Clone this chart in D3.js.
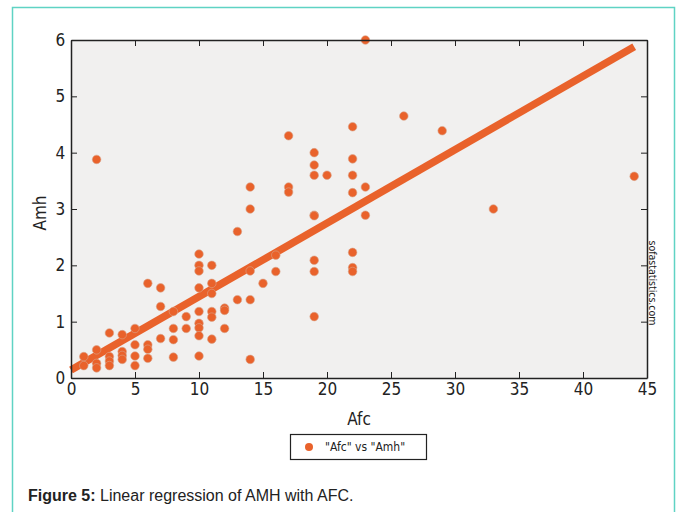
<!DOCTYPE html>
<html>
<head>
<meta charset="utf-8">
<script src="https://cdn.jsdelivr.net/npm/d3@7"></script>
<style>
  body { margin: 0; background: #fff; }
  svg { display: block; }
</style>
</head>
<body>
<div class="canvas"></div>
<script>
// data
const afc = [1, 1, 2, 2, 2, 2, 3, 3, 3, 3, 4, 4, 4, 4, 5, 5, 5, 5,
  6, 6, 6, 6, 7, 7, 7, 8, 8, 8, 8, 9, 9,
  10, 10, 10, 10, 10, 10, 10, 10, 10,
  11, 11, 11, 11, 11, 11, 12, 12, 12, 13, 13,
  14, 14, 14, 14, 14, 15, 16, 16, 17, 17, 17,
  19, 19, 19, 19, 19, 19, 19, 19, 20,
  22, 22, 22, 22, 22, 22, 22, 23, 23, 23, 26, 29, 33, 44];
const amh = [0.38, 0.22, 0.5, 0.26, 0.18, 3.88, 0.8, 0.38, 0.3, 0.22, 0.77, 0.47, 0.4, 0.33, 0.88, 0.59, 0.39, 0.22,
  1.68, 0.59, 0.51, 0.35, 1.6, 1.27, 0.7, 1.18, 0.88, 0.68, 0.37, 1.09, 0.88,
  2.2, 2.0, 1.9, 1.6, 1.18, 0.97, 0.89, 0.75, 0.39,
  2.0, 1.68, 1.5, 1.18, 1.08, 0.69, 1.24, 1.2, 0.88, 2.6, 1.39,
  3.39, 3.0, 1.9, 1.39, 0.33, 1.68, 2.18, 1.89, 4.3, 3.39, 3.3,
  4.0, 3.78, 3.6, 2.89, 2.09, 1.89, 1.09, 2.88, 3.6,
  4.46, 3.89, 3.6, 3.29, 2.23, 1.96, 1.89, 6.0, 3.39, 2.89, 4.65, 4.39, 3.0, 3.58];

// regression line end points
const fitX = [0, 44];
const fitY = [0.14, 5.88];

const xTicks = [0, 5, 10, 15, 20, 25, 30, 35, 40, 45];
const yTicks = [0, 1, 2, 3, 4, 5, 6];

const orange = '#e9622b';

const svg = d3.select('.canvas')
    .append('svg')
    .attr('width', 677)
    .attr('height', 512);

// teal frame
svg.append('rect')
    .attr('x', 12.5).attr('y', 7.5)
    .attr('width', 662).attr('height', 530)
    .attr('fill', 'none')
    .attr('stroke', '#5fd3c4')
    .attr('stroke-width', 1.5);

const margin = {top: 40, left: 71};
const graphWidth = 647 - 71;
const graphHeight = 378 - 40;

const graph = svg.append('g')
    .attr('transform', `translate(${margin.left},${margin.top})`);

const x = d3.scaleLinear().domain([0, 45]).range([0, graphWidth]);
const y = d3.scaleLinear().domain([0, 6]).range([graphHeight, 0]);

graph.append('rect')
    .attr('width', graphWidth)
    .attr('height', graphHeight)
    .attr('fill', '#f1f0ef');

// regression line
graph.append('line')
    .attr('x1', x(fitX[0])).attr('y1', y(fitY[0]))
    .attr('x2', x(fitX[1])).attr('y2', y(fitY[1]))
    .attr('stroke', orange)
    .attr('stroke-width', 7.5);

// points
graph.selectAll('circle.pt')
    .data(afc.map((d, i) => ({x: d, y: amh[i]})))
    .enter()
    .append('circle')
    .attr('class', 'pt')
    .attr('cx', d => x(d.x))
    .attr('cy', d => y(d.y))
    .attr('r', 4.3)
    .attr('fill', orange)
    .attr('stroke', '#d9a48c')
    .attr('stroke-width', 0.6);

// axes, ticks pointing inward
const tickFont = '"DejaVu Sans Condensed", "DejaVu Sans", sans-serif';
const styleAxis = g => {
    g.selectAll('path').attr('stroke', '#222').attr('stroke-width', 1.5);
    g.selectAll('line').attr('stroke', '#222').attr('stroke-width', 1);
    g.selectAll('text')
        .attr('font-family', tickFont)
        .attr('font-size', 17)
        .attr('fill', '#222');
};

graph.append('g')
    .attr('transform', `translate(0,${graphHeight})`)
    .call(d3.axisBottom(x).tickValues(xTicks).tickSizeInner(-6).tickSizeOuter(0).tickPadding(3)
        .tickFormat(d3.format('d')))
    .call(styleAxis)
    .call(g => g.selectAll('text').attr('dy', '0.85em'));

graph.append('g')
    .call(d3.axisTop(x).tickValues(xTicks).tickSizeInner(-6).tickSizeOuter(0).tickFormat(''))
    .call(styleAxis);

graph.append('g')
    .call(d3.axisLeft(y).tickValues(yTicks).tickSizeInner(-6).tickSizeOuter(0).tickPadding(4)
        .tickFormat(d3.format('d')))
    .call(styleAxis)
    .call(g => g.selectAll('text').attr('dx', '-0.1em'));

graph.append('g')
    .attr('transform', `translate(${graphWidth},0)`)
    .call(d3.axisRight(y).tickValues(yTicks).tickSizeInner(-6).tickSizeOuter(0).tickFormat(''))
    .call(styleAxis);

// axis titles
svg.append('text')
    .attr('x', 359).attr('y', 425)
    .attr('text-anchor', 'middle')
    .attr('font-family', tickFont)
    .attr('font-size', 17)
    .attr('fill', '#222')
    .text('Afc');

svg.append('text')
    .attr('transform', 'translate(46,213) rotate(-90)')
    .attr('text-anchor', 'middle')
    .attr('font-family', tickFont)
    .attr('font-size', 17)
    .attr('fill', '#222')
    .text('Amh');

// watermark
svg.append('text')
    .attr('transform', 'translate(649,283) rotate(90)')
    .attr('text-anchor', 'middle')
    .attr('font-family', '"DejaVu Sans Condensed", "DejaVu Sans", sans-serif')
    .attr('font-size', 10.5)
    .attr('fill', '#222')
    .text('sofastatistics.com');

// legend
const legend = svg.append('g');
legend.append('rect')
    .attr('x', 290.5).attr('y', 434.5)
    .attr('width', 136).attr('height', 25)
    .attr('fill', '#fff')
    .attr('stroke', '#222')
    .attr('stroke-width', 1.2);
legend.append('circle')
    .attr('cx', 309).attr('cy', 447)
    .attr('r', 4)
    .attr('fill', orange);
legend.append('text')
    .attr('x', 325).attr('y', 451)
    .attr('font-family', '"DejaVu Sans Condensed", "DejaVu Sans", sans-serif')
    .attr('font-size', 12)
    .attr('fill', '#222')
    .text('"Afc" vs "Amh"');

// caption
const cap = svg.append('text')
    .attr('x', 28).attr('y', 501)
    .attr('font-family', '"Liberation Sans", Arial, sans-serif')
    .attr('font-size', 16)
    .attr('fill', '#222');
cap.append('tspan').attr('font-weight', 'bold').text('Figure 5:');
cap.append('tspan').text(' Linear regression of AMH with AFC.');
</script>
</body>
</html>
